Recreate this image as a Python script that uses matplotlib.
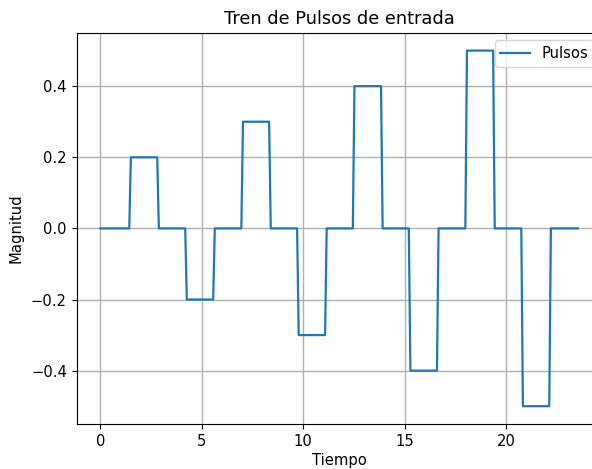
import numpy as np
import matplotlib
matplotlib.use("Agg")
import matplotlib.pyplot as plt

# Pulse levels, one per time segment
niveles = [0.0, 0.2, 0.0, -0.2, 0.0, 0.3, 0.0, -0.3, 0.0,
           0.4, 0.0, -0.4, 0.0, 0.5, 0.0, -0.5, 0.0]
# Instants where each level change begins
flancos = [1.42, 2.80, 4.18, 5.56, 6.95, 8.32, 9.70, 11.08,
           12.45, 13.84, 15.21, 16.60, 18.00, 19.37, 20.76, 22.14]
t_inicio = 0.0
t_fin = 23.55
rampa = 0.08  # sampled transition width

# Build the sampled pulse train polyline
t = [t_inicio]
y = [niveles[0]]
for k, tf in enumerate(flancos):
    t += [tf, tf + rampa]
    y += [niveles[k], niveles[k + 1]]
t.append(t_fin)
y.append(niveles[-1])

fig = plt.figure(figsize=(5.92, 4.69), dpi=100)
ax = fig.add_axes([0.1294, 0.096, 0.887, 0.834])
ax.plot(t, y, color="#1f77b4", linewidth=1.6, label="Pulsos")
ax.set_title("Tren de Pulsos de entrada", fontsize=12.8, pad=6.5)
ax.set_xlabel("Tiempo", fontsize=10.6, labelpad=3)
ax.set_ylabel("Magnitud", fontsize=10.6, labelpad=5)
ax.grid(True, color="#b0b0b0", linewidth=1.0)
ax.legend(loc="upper right", fontsize=10.6)
ax.tick_params(labelsize=10.6)

fig.savefig("out.png", dpi=100)
